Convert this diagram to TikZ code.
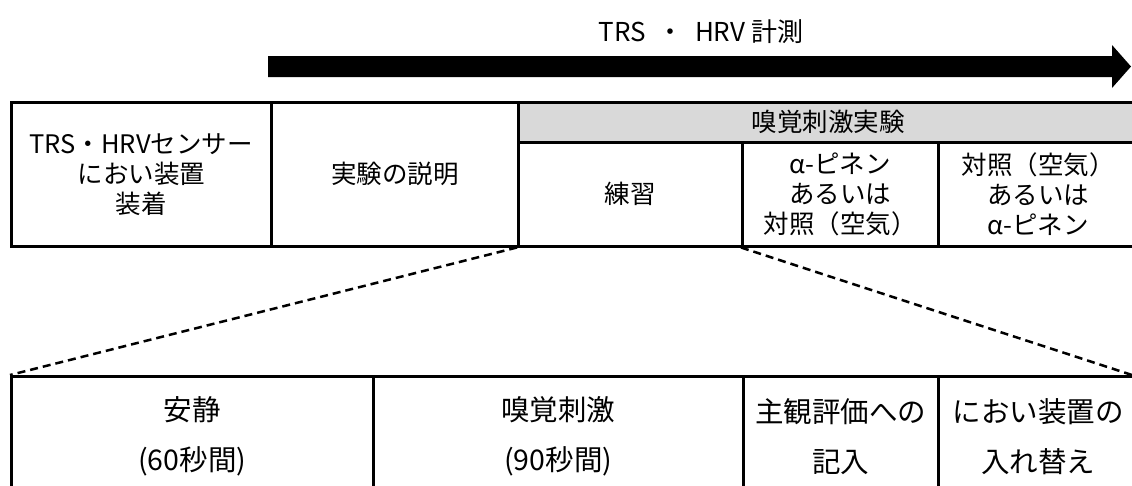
\documentclass[tikz,border=0pt]{standalone}
\usepackage{fontspec}
\setmainfont{Noto Sans CJK JP}
\definecolor{hdrgray}{HTML}{D9D9D9}
\begin{document}
\begin{tikzpicture}[x=1pt,y=-1pt,
  cell/.style={draw=black, line width=2.5pt, rectangle, inner sep=0pt, anchor=north west, align=center,
    font=\fontsize{25.5}{30}\selectfont},
  lowcell/.style={cell, font=\fontsize{28.5}{50}\selectfont},
  dashline/.style={line width=2.5pt, dash pattern=on 8pt off 5pt}]
\useasboundingbox (0,0) rectangle (1132,485);
\clip (0,0) rectangle (1132,485);
% title and arrow
\node[font=\fontsize{26}{30}\selectfont] (title) at (701,32) {TRS\ \ ・\ \ HRV 計測};
\fill (268,56) -- (1112,56) -- (1112,45) -- (1131,66.5) -- (1112,88) -- (1112,77) -- (268,77) -- cycle;
% top table
\node[cell, minimum width=260pt, minimum height=144pt] (c1) at (10,101) {TRS・HRVセンサー\\におい装置\\装着};
\node[cell, minimum width=247pt, minimum height=144pt] (c2) at (270,101) {実験の説明};
\node[cell, fill=hdrgray, minimum width=620pt, minimum height=40pt] (hdr) at (517,101) {嗅覚刺激実験};
\node[cell, minimum width=224pt, minimum height=104pt] (c3) at (517,141) {練習};
\node[cell, minimum width=196pt, minimum height=104pt] (c4) at (741,141) {α-ピネン\\あるいは\\対照（空気）};
\node[cell, minimum width=200pt, minimum height=104pt] (c5) at (937,141) {対照（空気）\\あるいは\\α-ピネン};
% bottom table
\node[lowcell, minimum width=362pt, minimum height=120pt] (d1) at (10,375) {安静\\(60秒間)};
\node[lowcell, minimum width=370pt, minimum height=120pt] (d2) at (372,375) {嗅覚刺激\\(90秒間)};
\node[lowcell, minimum width=195pt, minimum height=120pt] (d3) at (742,375) {主観評価への\\記入};
\node[lowcell, minimum width=200pt, minimum height=120pt] (d4) at (937,375) {におい装置の\\入れ替え};
\coordinate (rend) at (1132,375);
% zoom lines
\draw[dashline] (c3.south west) -- (d1.north west);
\draw[dashline] (c4.south west) -- (rend);
\end{tikzpicture}
\end{document}
